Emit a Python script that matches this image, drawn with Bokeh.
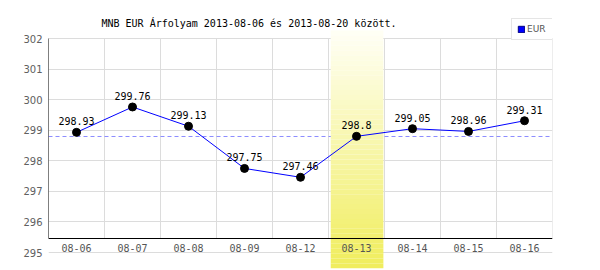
from bokeh.plotting import figure
from bokeh.models import (ColumnDataSource, FixedTicker, Label, Legend, LegendItem,
                          Range1d)
from bokeh.core.properties import value
from bokeh.embed import file_html
from bokeh.resources import INLINE

# ---- data ----
categories = ["08-06", "08-07", "08-08", "08-09", "08-12", "08-13", "08-14", "08-15", "08-16"]
rates = [298.93, 299.76, 299.13, 297.75, 297.46, 298.8, 299.05, 298.96, 299.31]
rate_labels = ["298.93", "299.76", "299.13", "297.75", "297.46", "298.8", "299.05", "298.96", "299.31"]
y_ticks = [295, 296, 297, 298, 299, 300, 301, 302]
highlight = "08-13"
title_text = "MNB EUR Árfolyam 2013-08-06 és 2013-08-20 között."
series_name = "EUR"

# ---- layout constants ----
W, H = 600, 270
left, right, top, bottom = 48, 48, 10, 2
y_lo, y_hi = 295, 302
px_top, px_bot = 38, 252           # pixel rows of y_hi / y_lo
k = (px_bot - px_top) / (y_hi - y_lo)
y_end = y_hi + (px_top - top) / k
y_start = y_lo - ((H - bottom) - px_bot) / k
axis_y = y_hi - (238 - px_top) / k     # black baseline
cat_y = y_hi - (247.5 - px_top) / k    # category labels
band_top = y_hi + (px_top - 30) / k

n = len(categories)
xs = [i + 0.5 for i in range(n)]

p = figure(width=W, height=H, output_backend="svg", toolbar_location=None,
           x_range=Range1d(0, n), y_range=Range1d(y_start, y_end),
           min_border_left=left, min_border_right=right,
           min_border_top=top, min_border_bottom=bottom)
p.outline_line_color = None
p.background_fill_color = "white"
p.border_fill_color = "white"

p.xaxis.visible = False
p.xgrid.visible = False
p.yaxis.ticker = FixedTicker(ticks=y_ticks)
p.yaxis.axis_line_color = None
p.yaxis.major_tick_line_color = None
p.yaxis.minor_tick_line_color = None
p.yaxis.major_tick_out = 0
p.yaxis.major_tick_in = 0
p.yaxis.minor_tick_out = 0
p.yaxis.major_label_standoff = 6
p.yaxis.major_label_text_font = "DejaVu Sans"
p.yaxis.major_label_text_font_size = "10px"
p.yaxis.major_label_text_color = "#606060"
p.ygrid.ticker = FixedTicker(ticks=y_ticks)
p.ygrid.grid_line_color = "#dcdcdc"

# vertical grid lines
p.segment(x0=list(range(1, n + 1)), y0=[axis_y] * n, x1=list(range(1, n + 1)), y1=[y_hi] * n,
          line_color="#dcdcdc", line_width=1)

# average dashed line (behind the highlight band)
avg = sum(rates) / len(rates)
p.line(x=[0, n], y=[avg, avg], line_color="#8c8cff", line_dash="4 3", line_width=1)

# highlight band with vertical gradient
hi = categories.index(highlight)
steps = 48
c_top = (255, 255, 246)
c_bot = (240, 237, 92)
tops, bots, cols = [], [], []
for s in range(steps):
    t0 = band_top - (band_top - y_start) * s / steps
    t1 = band_top - (band_top - y_start) * (s + 1) / steps
    f = (s + 0.5) / steps
    c = tuple(int(round(c_top[j] + (c_bot[j] - c_top[j]) * f)) for j in range(3))
    tops.append(t0)
    bots.append(t1)
    cols.append("#%02x%02x%02x" % c)
p.quad(left=hi + 0.04, right=hi + 0.98, top=tops, bottom=bots, fill_color=cols,
       line_color=None)

# axes lines
p.segment(x0=[0], y0=[axis_y], x1=[0], y1=[y_hi], line_color="black", line_width=1)
p.segment(x0=[0], y0=[axis_y], x1=[n], y1=[axis_y], line_color="black", line_width=1)

# category labels
p.text(x=xs, y=[cat_y] * n, text=categories, text_align="center", text_baseline="middle",
       text_font=value("DejaVu Sans Mono"), text_font_size="10px", text_color="#555555")

src = ColumnDataSource(dict(x=xs, y=rates, lab=rate_labels))
p.line("x", "y", source=src, line_color="#0000ff", line_width=1)
p.scatter("x", "y", source=src, size=8, fill_color="black", line_color="black")
p.text("x", "y", text="lab", source=src, text_align="center", text_baseline="alphabetic",
       y_offset=-11, text_font=value("DejaVu Sans Mono"), text_font_size="10px",
       text_color="black")

# title
p.add_layout(Label(x=53, y=H - 30, x_units="screen", y_units="screen", text=title_text,
                   text_font="DejaVu Sans Mono", text_font_size="10px", text_color="black"))

# legend
dummy = p.quad(left=[-10], right=[-9], top=[0], bottom=[-1], fill_color="#0000ff",
               line_color="#000080")
leg = Legend(items=[LegendItem(label=series_name, renderers=[dummy])],
             location=(463, 228), orientation="vertical",
             border_line_color="#cccccc", background_fill_color="white",
             background_fill_alpha=1.0,
             label_text_font="DejaVu Sans", label_text_font_size="9px",
             label_text_color="#555555", glyph_width=8, glyph_height=8,
             label_standoff=2, padding=5, margin=0, spacing=0, label_height=8)
p.add_layout(leg, "center")

open("out.html", "w").write(file_html(p, INLINE))
